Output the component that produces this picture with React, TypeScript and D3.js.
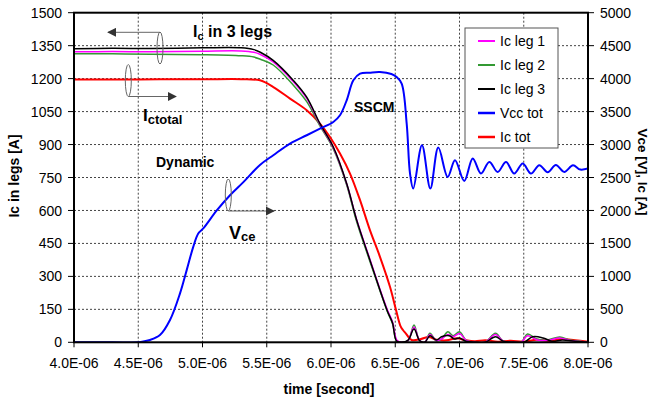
import React from "react";
import * as d3 from "d3";

// ---------- data (time in microseconds) ----------
const xTicks = [4.0, 4.5, 5.0, 5.5, 6.0, 6.5, 7.0, 7.5, 8.0];
const xTickLabels = ["4.0E-06", "4.5E-06", "5.0E-06", "5.5E-06", "6.0E-06", "6.5E-06", "7.0E-06", "7.5E-06", "8.0E-06"];
const leftTicks = [0, 150, 300, 450, 600, 750, 900, 1050, 1200, 1350, 1500];
const rightTicks = [0, 500, 1000, 1500, 2000, 2500, 3000, 3500, 4000, 4500, 5000];

const leg3Time = [4.0, 4.3, 4.6, 5.0, 5.3, 5.4, 5.45, 5.55, 5.707, 5.811, 5.914, 6.018, 6.122, 6.2, 6.303, 6.381, 6.44, 6.479, 6.51, 6.55, 6.6, 6.646, 6.69, 6.73, 6.77, 6.82, 6.86, 6.92, 6.96, 7.0, 7.05, 7.12, 7.2, 7.28, 7.34, 7.42, 7.5, 7.57, 7.65, 7.72, 7.8, 7.9, 8.0];
const leg3Values = [1336, 1338, 1337, 1340, 1340, 1332, 1320, 1283, 1192, 1116, 995, 889, 723, 556, 374, 238, 140, 88, 6, 0, 10, 60, 8, 0, 30, 10, 25, 30, 15, 20, 5, 0, 0, 25, 5, 0, 0, 25, 20, 5, 10, 5, 0];

const leg1Time = [4.0, 4.3, 4.6, 5.0, 5.3, 5.4, 5.45, 5.55, 5.707, 5.811, 5.914, 6.018, 6.122, 6.2, 6.303, 6.381, 6.44, 6.479, 6.515, 6.56, 6.6, 6.646, 6.69, 6.73, 6.77, 6.82, 6.86, 6.91, 6.95, 7.0, 7.05, 7.12, 7.2, 7.28, 7.34, 7.42, 7.48, 7.53, 7.6, 7.68, 7.78, 7.86, 7.94, 8.0];
const leg1Values = [1322, 1323, 1322, 1325, 1326, 1320, 1310, 1276, 1186, 1110, 992, 886, 722, 558, 378, 242, 146, 92, 8, 0, 8, 70, 8, 0, 35, 8, 15, 35, 25, 40, 10, 0, 0, 35, 5, 0, 0, 30, 12, 8, 20, 8, 4, 0];

const leg2Time = [4.0, 4.3, 4.6, 5.0, 5.3, 5.4, 5.45, 5.55, 5.707, 5.811, 5.914, 6.018, 6.122, 6.2, 6.303, 6.381, 6.44, 6.479, 6.51, 6.55, 6.6, 6.646, 6.69, 6.73, 6.77, 6.82, 6.86, 6.91, 6.95, 7.0, 7.05, 7.12, 7.2, 7.28, 7.34, 7.42, 7.48, 7.53, 7.6, 7.68, 7.78, 7.86, 7.94, 8.0];
const leg2Values = [1313, 1313, 1311, 1309, 1304, 1298, 1288, 1262, 1170, 1095, 985, 880, 716, 548, 368, 234, 138, 84, 8, 0, 6, 79, 6, 0, 41, 6, 15, 48, 30, 48, 10, 0, 0, 41, 5, 0, 0, 38, 15, 10, 24, 10, 5, 0];

// Ic tot and Vce are on the right axis (V / A)
const icTotTime = [4.0, 4.5, 5.0, 5.3, 5.447, 5.551, 5.681, 5.811, 5.914, 5.992, 6.07, 6.148, 6.226, 6.303, 6.381, 6.459, 6.506, 6.54, 6.56, 6.58, 6.628, 6.7, 6.76, 6.82, 6.9, 6.98, 7.05, 7.12, 7.2, 7.3, 7.4, 7.5, 7.6, 7.7, 7.8, 7.9, 8.0];
const icTotValues = [3985, 3988, 3990, 3992, 3974, 3872, 3697, 3520, 3318, 3115, 2863, 2560, 2156, 1701, 1297, 842, 490, 250, 186, 140, 35, 50, 80, 40, 30, 60, 30, 15, 30, 10, 25, 10, 40, 20, 50, 30, 10];

const vceTime = [4.0, 4.3, 4.5, 4.514, 4.591, 4.669, 4.747, 4.825, 4.877, 4.928, 4.967, 5.006, 5.111, 5.214, 5.318, 5.447, 5.551, 5.681, 5.811, 5.914, 6.018, 6.07, 6.122, 6.174, 6.226, 6.3, 6.381, 6.47, 6.511, 6.55, 6.589, 6.615, 6.64, 6.708, 6.773, 6.835, 6.908, 6.965, 7.037, 7.103, 7.167, 7.232, 7.297, 7.362, 7.426, 7.492, 7.556, 7.621, 7.686, 7.75, 7.815, 7.883, 7.94, 8.0];
const vceValues = [0, 0, 0, 5, 35, 110, 338, 742, 1095, 1448, 1651, 1727, 2000, 2231, 2430, 2690, 2838, 3015, 3141, 3242, 3342, 3444, 3671, 3974, 4075, 4090, 4100, 4070, 4024, 3924, 3318, 2560, 2333, 2989, 2333, 2954, 2509, 2762, 2448, 2788, 2560, 2736, 2585, 2736, 2560, 2712, 2560, 2686, 2580, 2690, 2585, 2686, 2620, 2636];

const legendLabels = ["Ic leg 1", "Ic leg 2", "Ic leg 3", "Vcc tot", "Ic tot"];
const legendColors = ["#ff00ff", "#339933", "#000000", "#0000ff", "#ff0000"];

const FONT = "'Liberation Sans', Arial, Helvetica, sans-serif";

export default function App() {
  const W = 651, H = 401;
  const left = 74, right = 588, top = 12.7, bottom = 342.3;
  const x = d3.scaleLinear().domain([4, 8]).range([left, right]);
  const yL = d3.scaleLinear().domain([0, 1500]).range([bottom, top]);
  const yR = d3.scaleLinear().domain([0, 5000]).range([bottom, top]);

  const mk = (ts: number[], vs: number[], y: d3.ScaleLinear<number, number>) =>
    d3.line<number>().x((_, i) => x(ts[i])).y((v) => y(v)).curve(d3.curveCatmullRom.alpha(0.5))(vs) || "";

  const series = [
    { d: mk(icTotTime, icTotValues, yR), color: "#ff0000", w: 2 },
    { d: mk(leg2Time, leg2Values, yL), color: "#339933", w: 1.5 },
    { d: mk(leg1Time, leg1Values, yL), color: "#ff00ff", w: 1.5 },
    { d: mk(leg3Time, leg3Values, yL), color: "#000000", w: 1.5 },
    { d: mk(vceTime, vceValues, yR), color: "#0000ff", w: 2 },
  ];

  const grid = "#444";
  const annot = "#666";

  return (
    <svg width={W} height={H} style={{ position: "absolute", left: 0, top: 0, display: "block", background: "#fff" }} fontFamily={FONT}>
      <defs>
        <marker id="ah" viewBox="0 0 10 10" refX="9" refY="5" markerWidth="9" markerHeight="9" markerUnits="userSpaceOnUse" orient="auto">
          <path d="M0,0 L10,5 L0,10 z" fill="#333" />
        </marker>
        <clipPath id="plot">
          <rect x={left} y={top} width={right - left} height={bottom - top} />
        </clipPath>
      </defs>
      <rect x={0} y={0} width={W} height={H} fill="#fff" />

      {/* grid */}
      {leftTicks.slice(1, -1).map((t) => (
        <line key={"h" + t} x1={left} x2={right} y1={yL(t)} y2={yL(t)} stroke={grid} strokeWidth={1} strokeDasharray="2,2" />
      ))}
      {xTicks.slice(1, -1).map((t) => (
        <line key={"v" + t} x1={x(t)} x2={x(t)} y1={top} y2={bottom} stroke={grid} strokeWidth={1} strokeDasharray="2,2" />
      ))}

      {/* series */}
      <g clipPath="url(#plot)">
        {series.map((s, i) => (
          <path key={i} d={s.d} fill="none" stroke={s.color} strokeWidth={s.w} strokeLinejoin="round" />
        ))}
      </g>

      {/* frame */}
      <rect x={left} y={top} width={right - left} height={bottom - top} fill="none" stroke="#000" strokeWidth={2} />

      {/* left axis */}
      {leftTicks.map((t) => (
        <g key={"l" + t}>
          <line x1={left - 6} x2={left} y1={yL(t)} y2={yL(t)} stroke="#000" strokeWidth={1} />
          <text x={62} y={yL(t)} dy="0.36em" textAnchor="end" fontSize={14} fill="#000">{t}</text>
        </g>
      ))}
      {/* right axis */}
      {rightTicks.map((t) => (
        <g key={"r" + t}>
          <line x1={right} x2={right + 6} y1={yR(t)} y2={yR(t)} stroke="#000" strokeWidth={1} />
          <text x={600} y={yR(t)} dy="0.36em" textAnchor="start" fontSize={14} fill="#000">{t}</text>
        </g>
      ))}
      {/* bottom axis */}
      {xTicks.map((t, i) => (
        <g key={"x" + t}>
          <line x1={x(t)} x2={x(t)} y1={bottom} y2={bottom + 5} stroke="#000" strokeWidth={1} />
          <text x={x(t)} y={368} textAnchor="middle" fontSize={14} fill="#000">{xTickLabels[i]}</text>
        </g>
      ))}

      {/* axis titles */}
      <text x={329} y={394} textAnchor="middle" fontSize={14} fontWeight="bold">time [second]</text>
      <text transform="translate(19,176) rotate(-90)" textAnchor="middle" fontSize={14} fontWeight="bold">Ic in legs [A]</text>
      <text transform="translate(638,172) rotate(90)" textAnchor="middle" fontSize={13.5} fontWeight="bold">Vce [V], Ic [A]</text>

      {/* legend */}
      <rect x={465} y={28} width={93} height={120} fill="#fff" stroke="#555" strokeWidth={1} />
      {legendLabels.map((lab, i) => {
        const yy = 41 + i * 24;
        return (
          <g key={lab}>
            <line x1={478} x2={495} y1={yy} y2={yy} stroke={legendColors[i]} strokeWidth={i >= 3 ? 2.5 : 2} />
            <text x={500} y={yy} dy="0.36em" fontSize={14}>{lab}</text>
          </g>
        );
      })}

      {/* annotations */}
      <text x={193} y={37} fontSize={16} fontWeight="bold">
        I<tspan fontSize={11} dy={3}>c</tspan><tspan dy={-3}> in 3 legs</tspan>
      </text>
      <ellipse cx={160} cy={48} rx={3} ry={16} fill="none" stroke={annot} strokeWidth={1} />
      <line x1={160} y1={32.3} x2={108} y2={32.3} stroke={annot} strokeWidth={1} markerEnd="url(#ah)" />

      <ellipse cx={128.3} cy={80.5} rx={3} ry={16} fill="none" stroke={annot} strokeWidth={1} />
      <line x1={128.3} y1={96.5} x2={176} y2={96.5} stroke={annot} strokeWidth={1} markerEnd="url(#ah)" />
      <text x={143} y={121} fontSize={17} fontWeight="bold">
        I<tspan fontSize={13} dy={3}>ctotal</tspan>
      </text>

      <text x={156} y={167} fontSize={14} fontWeight="bold">Dynamic</text>

      <ellipse cx={228.3} cy={195} rx={3} ry={16} fill="none" stroke={annot} strokeWidth={1} />
      <line x1={228.3} y1={211} x2={274} y2={211} stroke={annot} strokeWidth={1} markerEnd="url(#ah)" />
      <text x={229} y={238.5} fontSize={18} fontWeight="bold">
        V<tspan fontSize={13} dy={2.5}>ce</tspan>
      </text>

      <text x={354} y={111.5} fontSize={14} fontWeight="bold">SSCM</text>
    </svg>
  );
}
